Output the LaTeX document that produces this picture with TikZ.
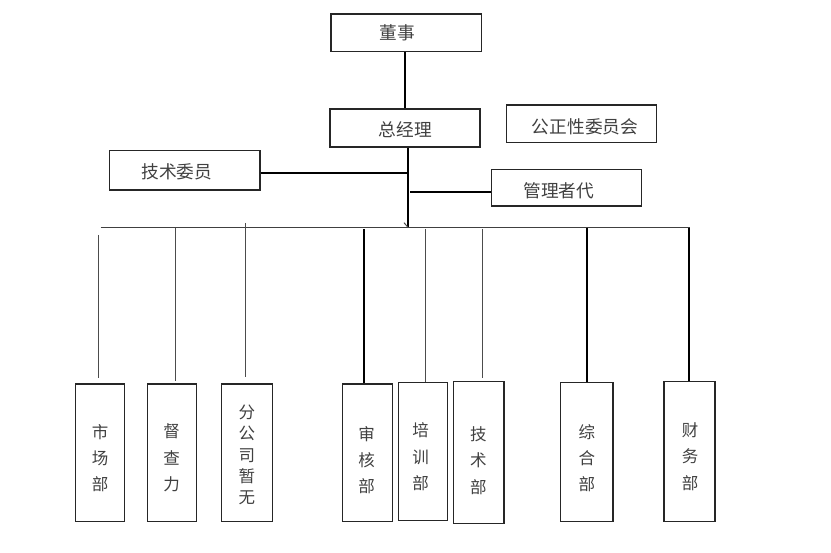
\documentclass[tikz,border=0pt]{standalone}
\usepackage{fontspec}
\newfontfamily\cjk{Noto Sans CJK SC}
\tikzset{
  box/.style={draw=black!85, line width=1.3pt, inner sep=0pt, anchor=center},
  toplab/.style={text=black!75, font=\cjk\fontsize{17.7}{21}\selectfont},
  vlab/.style={text=black!75, align=center, font=\cjk\fontsize{16.5}{26.3}\selectfont},
  vlabtight/.style={text=black!75, align=center, font=\cjk\fontsize{16.5}{21.3}\selectfont},
  heavy/.style={line width=2pt, draw=black},
  light/.style={line width=1pt, draw=black!70},
  bus/.style={line width=1.3pt, draw=black!75}
}
\begin{document}
\begin{tikzpicture}[x=1pt,y=-1pt]
\useasboundingbox (0,0) rectangle (831,553);
% top boxes
\node[box, minimum width=150.7pt, minimum height=37.7pt,
  label={[toplab, xshift=-8.8pt]center:董事}] (ds) at (406.3,32.8) {};
\node[box, minimum width=150pt, minimum height=38pt,
  label={[toplab, xshift=0.5pt, yshift=-2pt]center:总经理}] (zjl) at (405,128) {};
\node[box, minimum width=150pt, minimum height=37.3pt,
  label={[toplab, xshift=3.3pt, yshift=-3pt]center:公正性委员会}] (gzx) at (581.7,123.7) {};
\node[box, minimum width=150.7pt, minimum height=39.3pt,
  label={[toplab, xshift=-8pt, yshift=-1.4pt]center:技术委员}] (jswy) at (184.7,170.3) {};
\node[box, minimum width=150pt, minimum height=36.7pt,
  label={[toplab, xshift=-8pt, yshift=-3pt]center:管理者代}] (glzd) at (566.7,187.7) {};
% bottom boxes
\node[box, minimum width=48.6pt, minimum height=137.7pt,
  label={[vlab, yshift=-5.5pt]center:市\\场\\部}] (scb) at (100,452.8) {};
\node[box, minimum width=49pt, minimum height=137.7pt,
  label={[vlab, xshift=-0.5pt, yshift=-5.2pt]center:督\\查\\力}] (dcl) at (172.2,452.8) {};
\node[box, minimum width=51pt, minimum height=137.7pt,
  label={[vlabtight, yshift=-2.2pt]center:分\\公\\司\\暂\\无}] (fgs) at (246.8,452.8) {};
\node[box, minimum width=50pt, minimum height=137.7pt,
  label={[vlab, xshift=-0.6pt, yshift=-7.2pt]center:审\\核\\部}] (shb) at (367.3,452.8) {};
\node[box, minimum width=49pt, minimum height=138pt,
  label={[vlab, xshift=-2.1pt, yshift=-5pt]center:培\\训\\部}] (pxb) at (422.8,451.7) {};
\node[box, minimum width=50.7pt, minimum height=141.6pt,
  label={[vlab, xshift=-0.4pt, yshift=-8.2pt]center:技\\术\\部}] (jsb) at (478.7,452.5) {};
\node[box, minimum width=52.3pt, minimum height=139pt,
  label={[vlab, yshift=-6.1pt]center:综\\合\\部}] (zhb) at (586.8,452.2) {};
\node[box, minimum width=51pt, minimum height=140pt,
  label={[vlab, xshift=0.5pt, yshift=-5pt]center:财\\务\\部}] (cwb) at (689.5,451.7) {};
% coordinates
\coordinate (trunk) at (408.3,227.7);
\coordinate (t1) at (406.7,172.7);
\coordinate (t2) at (410,191.7);
\coordinate (tick) at (404,222.7);
\coordinate (busL) at (100.7,227.7);
\coordinate (busR) at (690,227.7);
% upper connectors
\draw[heavy] (ds.south -| 405.3,0) -- (405.3,0 |- zjl.north);
\draw[heavy] (trunk |- zjl.south) -- (trunk);
\draw[heavy] (jswy.east |- t1) -- (t1);
\draw[heavy] (t2) -- (t2 -| glzd.west);
\draw[light] (tick) -- (trunk);
% bus
\draw[bus] (busL) -- (busR);
% drops
\coordinate (d1a) at (98.3,235);   \coordinate (d1b) at (98.3,377.7);
\coordinate (d2a) at (175.7,227.7); \coordinate (d2b) at (175.7,381);
\coordinate (d3a) at (245.7,223);  \coordinate (d3b) at (245.7,376.7);
\coordinate (d4a) at (364,229);
\coordinate (d5a) at (425,229);
\coordinate (d6a) at (482.7,229);  \coordinate (d6b) at (482.7,377.7);
\coordinate (d7a) at (586.7,227.7);
\coordinate (d8a) at (689.3,227.7);
\draw[light] (d1a) -- (d1b);
\draw[light] (d2a) -- (d2b);
\draw[light] (d3a) -- (d3b);
\draw[heavy] (d4a) -- (d4a |- shb.north);
\draw[light] (d5a) -- (d5a |- pxb.north);
\draw[light] (d6a) -- (d6b);
\draw[heavy] (d7a) -- (d7a |- zhb.north);
\draw[heavy] (d8a) -- (d8a |- cwb.north);
\end{tikzpicture}
\end{document}
